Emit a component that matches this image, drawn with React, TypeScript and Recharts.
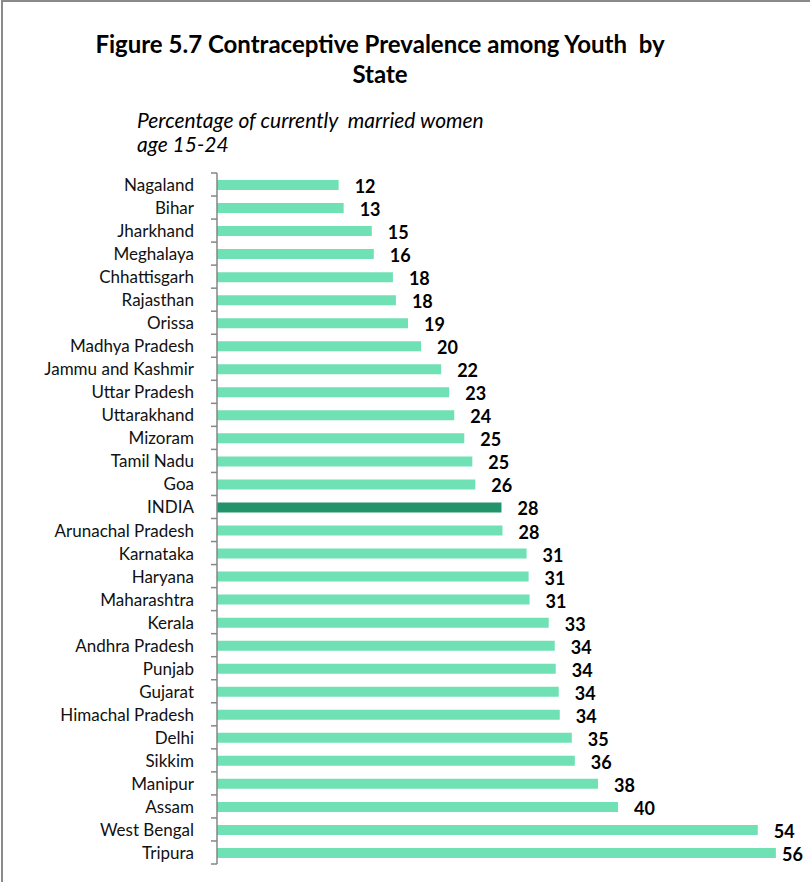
import { BarChart, Bar, XAxis, YAxis, Cell, LabelList } from "recharts";

const states = [
  "Nagaland", "Bihar", "Jharkhand", "Meghalaya", "Chhattisgarh", "Rajasthan",
  "Orissa", "Madhya Pradesh", "Jammu and Kashmir", "Uttar Pradesh", "Uttarakhand",
  "Mizoram", "Tamil Nadu", "Goa", "INDIA", "Arunachal Pradesh", "Karnataka",
  "Haryana", "Maharashtra", "Kerala", "Andhra Pradesh", "Punjab", "Gujarat",
  "Himachal Pradesh", "Delhi", "Sikkim", "Manipur", "Assam", "West Bengal", "Tripura",
];

const prevalence = [
  12.1, 12.6, 15.4, 15.6, 17.5, 17.8, 19.0, 20.3, 22.3, 23.1, 23.6, 24.6, 25.4,
  25.7, 28.3, 28.4, 30.8, 31.0, 31.1, 33.0, 33.6, 33.7, 34.0, 34.1, 35.3, 35.6,
  37.9, 39.9, 53.8, 55.6,
];

const highlight = "INDIA";

const data = states.map((name, i) => ({ name, value: prevalence[i] }));

const W = 810;
const H = 882;
const TOP = 173;
const BOTTOM = 18;
const AXIS_W = 217;
const band = (H - TOP - BOTTOM) / data.length;
const FONT = "Lato, 'Open Sans', sans-serif";

const StateTick = ({ x, y, payload, index }: any) => (
  <g>
    <text x={x} y={y} textAnchor="end" dominantBaseline="central" fontSize={17} fill="#111" fontFamily={FONT}>
      {payload.value}
    </text>
    <line x1={x + 17} x2={x + 23} y1={y - band / 2} y2={y - band / 2} stroke="#868686" strokeWidth={1.5} />
    {index === data.length - 1 && (
      <line x1={x + 17} x2={x + 23} y1={y + band / 2} y2={y + band / 2} stroke="#868686" strokeWidth={1.5} />
    )}
  </g>
);

const ValueLabel = ({ x, y, width, height, value }: any) => {
  const lx = Math.min(x + width + 16, 782);
  return (
    <text x={lx} y={y + height / 2 + 1} dominantBaseline="central" fontSize={18} fontWeight={700} fill="#000" fontFamily={FONT}>
      {Math.round(value)}
    </text>
  );
};

export default function App() {
  return (
    <div style={{ position: "fixed", left: 0, top: 0, width: W, height: H, overflow: "hidden", background: "#fff", fontFamily: FONT }}>
      <div style={{ position: "absolute", left: 1, top: 0, width: 900, height: 1000, border: "2px solid #8a8a8a" }} />
      <div style={{ position: "absolute", left: 0, top: 29, width: 760, textAlign: "center", fontWeight: 700, fontSize: 24, lineHeight: "30px", color: "#000" }}>
        Figure 5.7 Contraceptive Prevalence among Youth&nbsp; by
        <br />
        State
      </div>
      <div style={{ position: "absolute", left: 137, top: 108, fontStyle: "italic", fontSize: 21, lineHeight: "24px", color: "#000" }}>
        Percentage of currently&nbsp; married women
        <br />
        age 15-24
      </div>
      <div style={{ position: "absolute", left: 0, top: 0 }}>
        <BarChart width={W} height={H} data={data} layout="vertical" margin={{ top: TOP, right: 10, bottom: BOTTOM, left: 0 }}>
          <XAxis type="number" domain={[0, 58]} hide />
          <YAxis
            type="category"
            dataKey="name"
            width={AXIS_W}
            interval={0}
            tickLine={false}
            tickSize={6}
            tickMargin={17}
            axisLine={{ stroke: "#868686", strokeWidth: 1.5 }}
            tick={<StateTick />}
          />
          <Bar dataKey="value" barSize={10} isAnimationActive={false}>
            {data.map((d) => (
              <Cell key={d.name} fill={d.name === highlight ? "#22936a" : "#70e0b5"} />
            ))}
            <LabelList dataKey="value" content={<ValueLabel />} />
          </Bar>
        </BarChart>
      </div>
    </div>
  );
}
